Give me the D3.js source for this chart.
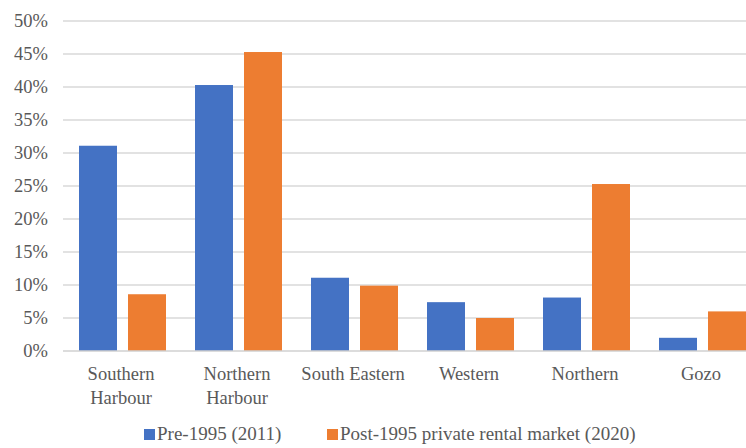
<!DOCTYPE html>
<html><head><meta charset="utf-8">
<script src="https://cdn.jsdelivr.net/npm/d3@7"></script>
<style>body{margin:0;background:#fff}svg{display:block}svg text{font-family:"Liberation Serif","Times New Roman","DejaVu Serif",serif}</style>
</head><body><svg id="c" width="746" height="448"></svg>
<script>
const categories = [["Southern","Harbour"],["Northern","Harbour"],["South Eastern"],["Western"],["Northern"],["Gozo"]];
const seriesNames = ["Pre-1995 (2011)","Post-1995 private rental market (2020)"];
const pre1995 = [31.1, 40.3, 11.1, 7.4, 8.1, 2.0];
const post1995 = [8.6, 45.3, 9.9, 5.0, 25.3, 6.0];
const yTicks = [0,5,10,15,20,25,30,35,40,45,50];
const colors = ["#4472C4","#ED7D31"];

(function(){
const svg = d3.select("#c");
const pL = 63, pR = 759, pT = 21, pB = 351;
const txt = "#595959";

const x = d3.scaleBand().domain(d3.range(categories.length)).range([pL,pR]).paddingInner(0).paddingOuter(0);
const y = d3.scaleLinear().domain([0,50]).range([pB,pT]);

// gridlines
svg.append("g").selectAll("line").data(yTicks.filter(t=>t>0)).join("line")
  .attr("x1",pL).attr("x2",746).attr("y1",d=>y(d)).attr("y2",d=>y(d))
  .attr("stroke","#d9d9d9").attr("stroke-width",1.3);

// y labels
svg.append("g").selectAll("text").data(yTicks).join("text")
  .attr("x",48).attr("y",d=>y(d)+6).attr("text-anchor","end")
  .attr("font-size",18.5).attr("fill",txt)
  .text(d=>d+"%");

const bw = 38;
const data = [pre1995, post1995];
const offsets = [16, 65];
data.forEach((s,si)=>{
  svg.append("g").selectAll("rect").data(s).join("rect")
    .attr("x",(d,i)=>x(i)+offsets[si]).attr("width",bw)
    .attr("y",d=>y(d)).attr("height",d=>y(0)-y(d))
    .attr("fill",colors[si]);
});

// baseline
svg.append("line").attr("x1",pL).attr("x2",746).attr("y1",y(0)).attr("y2",y(0))
  .attr("stroke","#d0d0d0").attr("stroke-width",1.3);

// category labels
const cl = svg.append("g").selectAll("text").data(categories).join("text")
  .attr("text-anchor","middle").attr("font-size",18.5).attr("fill",txt);
cl.each(function(d,i){
  const t = d3.select(this);
  d.forEach((line,li)=>{
    t.append("tspan").attr("x",x(i)+x.bandwidth()/2).attr("y",380+li*24).text(line);
  });
});

// legend
const lg = svg.append("g");
const items = [{x:144,name:seriesNames[0],c:colors[0]},{x:327,name:seriesNames[1],c:colors[1]}];
items.forEach(it=>{
  lg.append("rect").attr("x",it.x).attr("y",429).attr("width",11).attr("height",11).attr("fill",it.c);
  lg.append("text").attr("x",it.x+13).attr("y",440).attr("font-size",19)
    .attr("fill",txt).text(it.name);
});
})();
</script></body></html>
